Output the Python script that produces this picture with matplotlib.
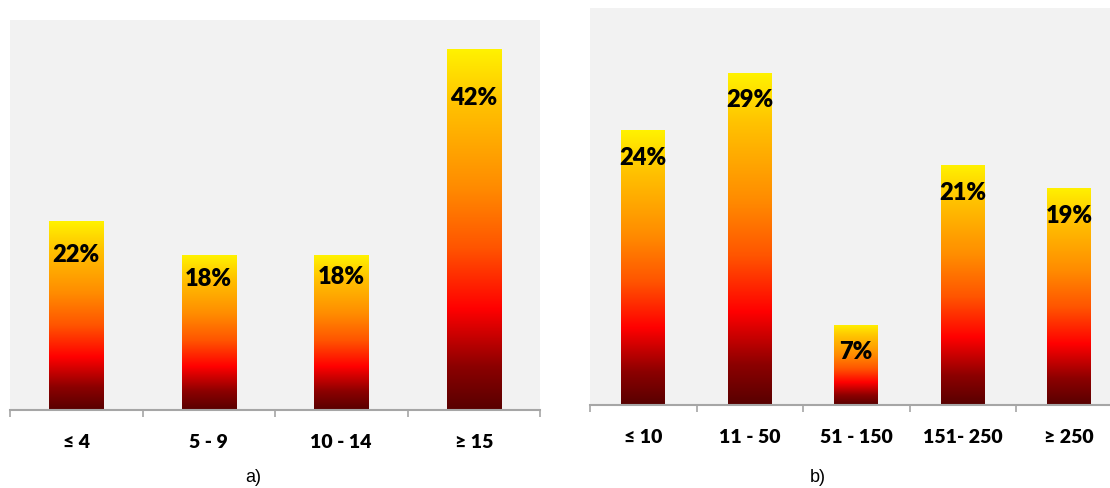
import numpy as np
import matplotlib.pyplot as plt
from matplotlib.colors import LinearSegmentedColormap

# Panel a) data
cats_a = ["≤ 4", "5 - 9", "10 - 14", "≥ 15"]
vals_a = [22, 18, 18, 42]

# Panel b) data
cats_b = ["≤ 10", "11 - 50", "51 - 150", "151- 250", "≥ 250"]
vals_b = [24, 29, 7, 21, 19]

# Label offsets below each bar top (pixels)
label_drop_a = [34, 24, 22, 49]
label_drop_b = [28, 27, 27, 28, 28]

DPI = 100
W, H = 1110, 488
fig = plt.figure(figsize=(W / DPI, H / DPI), dpi=DPI)
fig.patch.set_facecolor("white")

fire = LinearSegmentedColormap.from_list(
    "fire",
    [(0.00, "#580000"),
     (0.12, "#8c0000"),
     (0.28, "#ff0000"),
     (0.45, "#ff5500"),
     (0.62, "#ff8c00"),
     (0.85, "#ffc200"),
     (1.00, "#fff200")],
)
grad = np.linspace(0, 1, 256).reshape(-1, 1)

LABEL_FONT = ["Lato", "DejaVu Sans"]


def px_rect(x0, y_top, x1, y_bot):
    return [x0 / W, 1 - y_bot / H, (x1 - x0) / W, (y_bot - y_top) / H]


def panel(rect, cats, vals, ymax, drops):
    ax = fig.add_axes(rect)
    ax.set_facecolor("#f2f2f2")
    x = np.arange(len(cats))
    bars = ax.bar(x, vals, width=0.41, color="none", edgecolor="none")
    for b, v, d in zip(bars, vals, drops):
        x0, w, h = b.get_x(), b.get_width(), b.get_height()
        im = ax.imshow(grad, cmap=fire, origin="lower", aspect="auto",
                       extent=(x0, x0 + w, 0, h), zorder=2)
        im.set_clip_path(b)
        ax.annotate(f"{v}%", (b.get_x() + w / 2, h), xytext=(0, -d * 72 / DPI),
                    textcoords="offset points", ha="center", va="center",
                    fontsize=17, fontweight="heavy", family=LABEL_FONT,
                    color="black", zorder=3)
    ax.set_xlim(-0.5, len(cats) - 0.5)
    ax.set_ylim(0, ymax)
    ax.set_yticks([])
    ax.set_xticks(np.arange(len(cats) + 1) - 0.5)
    ax.set_xticklabels([])
    ax.set_xticks(x, minor=True)
    ax.set_xticklabels(cats, minor=True, fontsize=14, fontweight="heavy",
                       family=LABEL_FONT)
    ax.tick_params(axis="x", which="major", length=5, width=1.2,
                   color="#a6a6a6", direction="out")
    ax.tick_params(axis="x", which="minor", length=0, pad=17)
    for s in ["top", "right", "left"]:
        ax.spines[s].set_visible(False)
    ax.spines["bottom"].set_color("#a6a6a6")
    ax.spines["bottom"].set_linewidth(1.5)
    return ax


panel(px_rect(10, 20, 540, 410), cats_a, vals_a, 45.4, label_drop_a)
panel(px_rect(590, 8, 1122.5, 405), cats_b, vals_b, 34.7, label_drop_b)

fig.text(253 / W, 1 - 477 / H, "a)", ha="center", va="center",
         fontsize=13, family="Liberation Sans")
fig.text(818 / W, 1 - 477 / H, "b)", ha="center", va="center",
         fontsize=13, family="Liberation Sans")

fig.savefig("out.png", dpi=DPI)
